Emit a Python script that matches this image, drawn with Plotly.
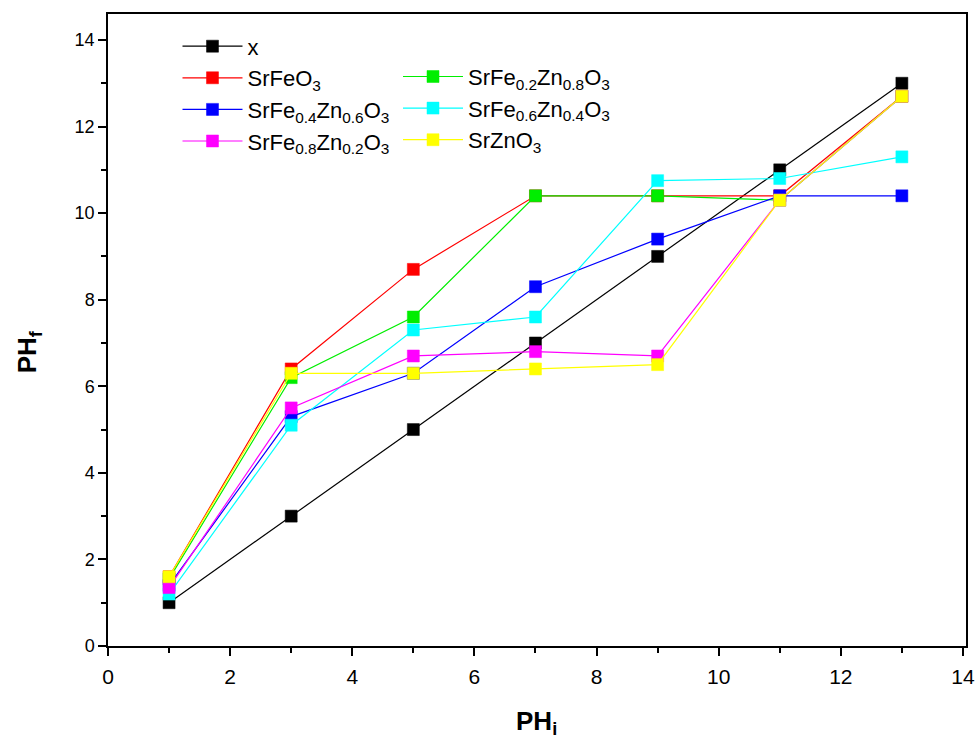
import plotly.graph_objects as go

ph_i = [1, 3, 5, 7, 9, 11, 13]

series_names = [
    "x",
    "SrFeO<sub>3</sub>",
    "SrFe<sub>0.2</sub>Zn<sub>0.8</sub>O<sub>3</sub>",
    "SrFe<sub>0.4</sub>Zn<sub>0.6</sub>O<sub>3</sub>",
    "SrFe<sub>0.6</sub>Zn<sub>0.4</sub>O<sub>3</sub>",
    "SrFe<sub>0.8</sub>Zn<sub>0.2</sub>O<sub>3</sub>",
    "SrZnO<sub>3</sub>",
]

x_ref = [1, 3, 5, 7, 9, 11, 13]
srfeo3 = [1.6, 6.4, 8.7, 10.4, 10.4, 10.4, 12.7]
fe02zn08 = [1.55, 6.2, 7.6, 10.4, 10.4, 10.3, 12.7]
fe04zn06 = [1.4, 5.3, 6.3, 8.3, 9.4, 10.4, 10.4]
fe06zn04 = [1.2, 5.1, 7.3, 7.6, 10.75, 10.8, 11.3]
fe08zn02 = [1.35, 5.5, 6.7, 6.8, 6.7, 10.3, 12.7]
srzno3 = [1.6, 6.3, 6.3, 6.4, 6.5, 10.3, 12.7]

x_ticks = [0, 2, 4, 6, 8, 10, 12, 14]
y_ticks = [0, 2, 4, 6, 8, 10, 12, 14]
minor_ticks = [1, 3, 5, 7, 9, 11, 13]

series_values = [x_ref, srfeo3, fe02zn08, fe04zn06, fe06zn04, fe08zn02, srzno3]
colors = ["#000000", "#ff0000", "#00ee00", "#0000ff", "#00ffff", "#ff00ff", "#ffff00"]
legend_ids = ["legend", "legend", "legend2", "legend", "legend2", "legend", "legend2"]
legend_rank = [1, 2, 2, 3, 3, 4, 4]

fig = go.Figure()
for name, vals, col, lg, rk in zip(series_names, series_values, colors, legend_ids, legend_rank):
    fig.add_trace(go.Scatter(
        x=ph_i, y=vals, name=name, mode="lines+markers",
        line=dict(color=col, width=1.2),
        marker=dict(symbol="square", size=12, color=col,
                    line=dict(color=col, width=0.5)),
        legend=lg, legendrank=rk,
    ))

font_main = "Liberation Sans, Arial, sans-serif"

axis_common = dict(
    ticks="outside", ticklen=8, tickwidth=1.5, tickcolor="black",
    showline=True, linecolor="black", linewidth=1.5, mirror=True,
    showgrid=False, zeroline=False, ticklabeloverflow="allow",
)

fig.update_layout(
    width=980, height=738,
    margin=dict(l=108, r=5, t=14, b=92),
    paper_bgcolor="white", plot_bgcolor="white",
    font=dict(family=font_main, color="black", size=18),
    legend=dict(x=0.081, y=0.982, xanchor="left", yanchor="top",
                bgcolor="rgba(0,0,0,0)", font=dict(size=22, family=font_main),
                itemwidth=60, tracegroupgap=0, traceorder="normal"),
    legend2=dict(x=0.338, y=0.934, xanchor="left", yanchor="top",
                 bgcolor="rgba(0,0,0,0)", font=dict(size=22, family=font_main),
                 itemwidth=60, tracegroupgap=0, traceorder="normal"),
    xaxis=dict(range=[0, 14.05], tickvals=x_ticks,
               minor=dict(tickvals=minor_ticks, ticks="outside",
                          ticklen=5, tickwidth=1.5, tickcolor="black"),
               tickfont=dict(size=21), ticklabelstandoff=3, **axis_common),
    yaxis=dict(range=[0, 14.6], tickvals=y_ticks,
               minor=dict(tickvals=minor_ticks, ticks="outside",
                          ticklen=5, tickwidth=1.5, tickcolor="black"),
               tickfont=dict(size=18), **axis_common),
    annotations=[
        dict(text="<b>PH<sub>i</sub></b>", xref="paper", yref="paper",
             x=0.499, y=-0.121, xanchor="center", yanchor="middle",
             showarrow=False, font=dict(size=26, family=font_main)),
        dict(text="<b>PH<sub>f</sub></b>", xref="paper", yref="paper",
             x=-0.093, y=0.465, xanchor="center", yanchor="middle", textangle=-90,
             showarrow=False, font=dict(size=26, family=font_main)),
    ],
)

fig.write_html("out.html")
